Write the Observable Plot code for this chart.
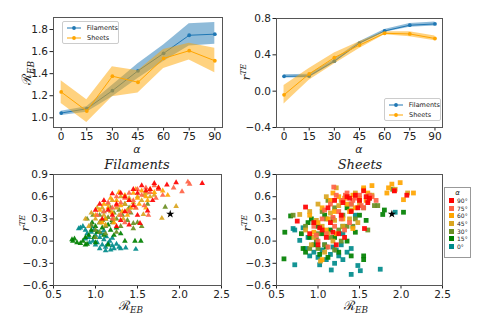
<!DOCTYPE html>
<html><head><meta charset="utf-8">
<script src="https://cdn.jsdelivr.net/npm/d3@7"></script>
<script src="https://cdn.jsdelivr.net/npm/@observablehq/plot@0.6"></script>
<style>
body{margin:0;background:#fff;}
#fig{position:relative;width:479px;height:317px;overflow:hidden;font-family:"DejaVu Sans",sans-serif;background:#fff;}
.panel{position:absolute;}
.panel svg{display:block;}
.panel svg text{font-size:10.5px;}
.lbl{position:absolute;transform:translate(-50%,-50%);white-space:nowrap;color:#222;line-height:1;}
.rot{transform:translate(-50%,-50%) rotate(-90deg);}
.m{font-family:"DejaVu Serif",serif;font-style:italic;}
.sub{font-size:68%;position:relative;top:0.3em;}
.sup{font-size:68%;position:relative;top:-0.5em;}
.leg{position:absolute;background:#fff;border:1px solid #ccc;border-radius:2px;font-size:6.5px;color:#222;}
.leg .row{display:flex;align-items:center;height:10px;}
.aleg{position:absolute;background:#fff;border:1px solid #999;font-size:6px;color:#222;}
.aleg .row{display:flex;align-items:center;height:7.6px;}
.aleg .sw{width:5px;height:5px;margin:0 3px 0 4px;}
</style>
</head><body>
<div id="fig"></div>
<script>
// ---------- data ----------
const alphas = [0, 15, 30, 45, 60, 75, 90];
// R_EB vs alpha
const filREB   = [1.043, 1.082, 1.246, 1.426, 1.584, 1.748, 1.758];
const filREBlo = [1.02, 1.05, 1.19, 1.356, 1.51, 1.65, 1.666];
const filREBhi = [1.06, 1.10, 1.295, 1.49, 1.66, 1.852, 1.864];
const shREB    = [1.234, 1.061, 1.377, 1.322, 1.538, 1.608, 1.517];
const shREBlo  = [1.13, 0.957, 1.19, 1.225, 1.447, 1.523, 1.408];
const shREBhi  = [1.335, 1.164, 1.462, 1.426, 1.62, 1.675, 1.63];
// r^TE vs alpha
const filRTE   = [0.163, 0.167, 0.33, 0.53, 0.663, 0.726, 0.74];
const filRTElo = [0.145, 0.148, 0.31, 0.515, 0.648, 0.705, 0.718];
const filRTEhi = [0.182, 0.185, 0.35, 0.545, 0.678, 0.745, 0.762];
const shRTE    = [-0.04, 0.19, 0.37, 0.507, 0.637, 0.63, 0.58];
const shRTElo  = [-0.14, 0.12, 0.30, 0.47, 0.62, 0.60, 0.555];
const shRTEhi  = [0.063, 0.25, 0.42, 0.545, 0.655, 0.655, 0.607];

const alphaTicks = [0, 15, 30, 45, 60, 75, 90];
const rebTicks = [1.0, 1.2, 1.4, 1.6, 1.8];
const rteTicks = [-0.4, 0.0, 0.4, 0.8];
const scXTicks = [0.5, 1.0, 1.5, 2.0, 2.5];
const scYTicks = [-0.6, -0.3, 0.0, 0.3, 0.6, 0.9];

const alphaLabels = ["0°", "15°", "30°", "45°", "60°", "75°", "90°"];
const alphaColors = ["#008b8b", "#008000", "#6b8e23", "#daa520", "#ffa500", "#ff6347", "#ff0000"];
const seriesColors = {Filaments: "#1f77b4", Sheets: "#ffa500"};
const star = [[1.89, 0.365]];

// Filaments scatter (R_EB, r^TE) per alpha
const fil0 = [[0.82,0.18],[0.85,0.20],[0.88,0.15],[0.90,0.10],[0.92,0.05],[0.95,0.12],[0.97,0.0],[1.0,0.08],[1.02,-0.02],[1.05,0.05],[1.08,-0.05],[1.1,0.02],[1.12,-0.08],[1.15,-0.03],[1.18,-0.12],[1.2,-0.06],[1.22,-0.1],[1.25,-0.04],[0.93,-0.02],[0.98,0.15],[1.03,0.12],[1.07,0.1],[1.13,0.06],[1.17,0.0],[1.28,-0.08],[1.3,-0.1],[1.36,-0.09],[1.48,-0.11],[0.88,0.03],[1.0,-0.05],[1.05,-0.1],[1.12,-0.13],[0.95,0.2],[1.1,0.14],[1.2,0.04],[0.8,0.17]];
const fil15 = [[0.72,0.02],[0.73,0.0],[0.75,0.03],[0.78,-0.02],[0.82,-0.03],[0.85,0.0],[0.88,0.05],[0.9,-0.04],[0.92,0.08],[0.95,0.15],[0.98,0.05],[1.0,0.2],[1.02,0.12],[1.05,0.25],[1.08,0.18],[1.1,0.08],[1.12,0.3],[1.15,0.22],[1.18,0.15],[1.2,0.28],[1.25,0.18],[1.3,0.1],[1.0,-0.02],[0.96,0.25],[1.22,0.08],[1.47,0.0],[1.54,0.0],[1.35,0.0],[1.15,-0.05],[0.88,-0.05]];
const fil30 = [[0.9,0.3],[0.95,0.22],[1.0,0.15],[1.05,0.35],[1.08,0.28],[1.1,0.4],[1.12,0.2],[1.15,0.32],[1.18,0.45],[1.2,0.25],[1.22,0.38],[1.25,0.3],[1.28,0.42],[1.3,0.2],[1.32,0.35],[1.35,0.5],[1.38,0.28],[1.4,0.45],[1.42,0.38],[1.45,0.24],[1.45,0.17],[1.5,0.25],[1.55,0.2],[1.62,0.5],[1.83,0.46],[1.0,0.05],[1.12,0.1],[0.97,0.35],[1.05,0.12],[1.25,0.12]];
const fil45 = [[0.88,0.3],[0.92,0.2],[0.95,0.38],[1.0,0.3],[1.05,0.25],[1.08,0.45],[1.1,0.35],[1.15,0.5],[1.18,0.4],[1.2,0.55],[1.25,0.45],[1.28,0.35],[1.3,0.6],[1.35,0.5],[1.38,0.42],[1.4,0.58],[1.45,0.52],[1.5,0.6],[1.55,0.55],[1.6,0.65],[1.65,0.6],[1.7,0.62],[1.79,0.31],[1.96,0.47],[1.57,0.36],[1.12,0.22],[1.22,0.3],[1.33,0.3],[1.48,0.45],[1.02,0.45],[1.58,0.62]];
const fil60 = [[1.0,0.35],[1.05,0.42],[1.1,0.5],[1.15,0.45],[1.2,0.38],[1.25,0.55],[1.3,0.48],[1.35,0.62],[1.4,0.55],[1.45,0.65],[1.5,0.58],[1.55,0.68],[1.6,0.6],[1.65,0.7],[1.7,0.66],[1.75,0.72],[1.8,0.68],[1.86,0.62],[1.6,0.45],[1.12,0.3],[1.22,0.25],[1.32,0.4],[1.42,0.45],[1.52,0.5],[1.18,0.58],[1.28,0.66],[1.08,0.25],[1.38,0.35],[1.62,0.55],[1.48,0.7]];
const fil75 = [[1.1,0.4],[1.15,0.52],[1.2,0.45],[1.25,0.6],[1.3,0.52],[1.35,0.58],[1.4,0.65],[1.45,0.55],[1.5,0.7],[1.55,0.62],[1.6,0.72],[1.65,0.66],[1.7,0.75],[1.75,0.7],[1.8,0.62],[1.93,0.72],[2.03,0.67],[2.1,0.8],[2.12,0.77],[1.63,0.35],[1.2,0.3],[1.3,0.35],[1.4,0.4],[1.02,0.35],[1.58,0.48],[1.25,0.48],[1.48,0.45],[1.72,0.58],[1.35,0.25]];
const fil90 = [[1.0,0.42],[1.05,0.5],[1.1,0.55],[1.15,0.42],[1.2,0.64],[1.25,0.5],[1.3,0.65],[1.35,0.6],[1.4,0.55],[1.45,0.7],[1.5,0.65],[1.55,0.75],[1.6,0.68],[1.65,0.7],[1.7,0.78],[1.75,0.72],[1.85,0.76],[1.96,0.79],[2.27,0.78],[1.4,0.22],[1.53,0.24],[1.5,0.35],[1.2,0.35],[1.3,0.28],[1.62,0.41],[1.35,0.4],[1.08,0.3],[1.45,0.48],[1.68,0.55],[1.25,0.2]];

// Sheets scatter (R_EB, r^TE) per alpha
const sh0 = [[0.7,0.17],[0.72,0.15],[0.78,0.01],[0.72,-0.32],[0.85,-0.1],[0.9,-0.2],[0.95,-0.15],[1.0,-0.22],[1.05,-0.12],[1.1,-0.25],[1.15,-0.18],[1.2,-0.3],[1.25,-0.2],[1.3,-0.25],[1.35,-0.15],[1.16,-0.39],[1.4,-0.45],[1.48,-0.33],[1.51,-0.4],[1.75,-0.38],[1.93,0.39],[0.88,0.05],[0.98,0.0],[1.08,-0.05],[1.18,-0.08],[1.28,-0.05],[1.4,-0.1],[1.3,0.1],[1.45,0.35],[1.02,-0.32],[0.82,0.18],[1.22,-0.12]];
const sh15 = [[0.59,-0.24],[0.6,0.12],[0.67,0.34],[0.8,0.1],[0.85,-0.15],[0.9,0.05],[0.92,0.3],[0.95,-0.05],[1.0,0.2],[1.02,-0.18],[1.05,0.1],[1.08,0.35],[1.1,-0.08],[1.15,0.15],[1.2,0.05],[1.25,-0.15],[1.3,0.2],[1.35,0.0],[1.4,-0.2],[1.45,0.12],[1.55,-0.2],[1.55,-0.25],[1.58,0.28],[1.8,0.42],[1.78,0.36],[2.03,0.39],[1.35,0.45],[0.88,0.25],[1.18,0.3],[1.12,-0.22],[0.82,-0.1],[1.5,0.35]];
const sh30 = [[0.7,0.35],[0.85,0.2],[0.9,-0.1],[0.95,0.25],[1.0,0.1],[1.05,0.4],[1.08,-0.05],[1.1,0.3],[1.15,0.05],[1.2,0.45],[1.25,0.15],[1.3,0.35],[1.35,0.2],[1.4,0.5],[1.45,0.3],[1.5,0.55],[1.55,0.45],[1.6,0.15],[1.68,0.48],[1.72,0.48],[1.9,0.7],[1.0,-0.1],[1.2,-0.12],[1.12,0.55],[0.98,0.02],[1.28,0.0],[1.42,0.2],[1.62,0.58]];
const sh45 = [[0.78,0.36],[0.85,0.15],[0.9,0.4],[0.95,0.05],[1.0,0.5],[1.03,-0.27],[1.05,0.2],[1.1,0.6],[1.12,0.1],[1.15,0.38],[1.2,0.28],[1.22,0.72],[1.25,0.48],[1.3,0.2],[1.35,0.6],[1.4,0.42],[1.45,0.65],[1.5,0.5],[1.55,0.7],[1.6,0.55],[1.65,0.62],[1.93,0.7],[2.08,0.65],[1.08,-0.15],[0.92,-0.05],[1.18,0.0],[1.28,0.55],[1.38,0.3],[0.98,0.28],[1.48,0.25]];
const sh60 = [[0.9,0.35],[1.0,0.25],[1.05,-0.25],[1.05,0.45],[1.1,0.15],[1.15,0.55],[1.2,0.4],[1.25,0.6],[1.3,0.3],[1.35,0.5],[1.42,0.17],[1.42,0.62],[1.5,0.58],[1.55,0.72],[1.6,0.65],[1.65,0.75],[1.83,0.65],[1.89,0.77],[1.99,0.79],[2.15,0.65],[2.03,0.56],[1.85,0.72],[1.12,0.3],[1.22,0.1],[1.32,0.58],[1.45,0.45],[0.95,0.12],[1.18,0.65],[1.58,0.55],[1.38,0.4]];
const sh75 = [[0.95,0.2],[1.0,0.0],[1.05,0.3],[1.1,0.1],[1.15,0.5],[1.19,0.73],[1.2,0.2],[1.22,0.62],[1.25,0.4],[1.3,0.55],[1.32,0.15],[1.35,0.65],[1.4,0.5],[1.45,0.58],[1.5,0.62],[1.55,0.45],[1.6,0.55],[1.65,0.6],[1.7,0.55],[1.92,0.68],[1.12,-0.08],[1.08,0.42],[1.28,0.3],[1.38,0.25],[1.42,0.55],[1.52,0.48],[0.98,0.08],[1.18,0.32],[1.62,0.62],[1.33,0.62]];
const sh90 = [[0.75,0.27],[0.85,0.46],[0.9,0.1],[0.95,0.25],[1.0,-0.05],[1.05,0.15],[1.1,0.05],[1.12,0.45],[1.15,0.25],[1.2,0.55],[1.25,0.1],[1.28,0.35],[1.3,0.52],[1.35,0.6],[1.4,0.4],[1.45,0.62],[1.5,0.55],[1.55,0.68],[1.58,0.6],[1.56,0.17],[1.62,0.58],[1.92,0.68],[2.07,0.62],[1.6,0.52],[1.18,0.12],[1.02,0.18],[1.22,-0.05],[1.32,0.05],[1.48,0.45],[1.38,0.58]];

// ---------- build ----------
const fig = document.getElementById("fig");
const baseStyle = {fontFamily: "DejaVu Sans", fontSize: "10.5px", background: "transparent", color: "#222", overflow: "visible"};

function place(el, left, top) {
  const d = document.createElement("div");
  d.className = "panel"; d.style.left = left + "px"; d.style.top = top + "px";
  d.appendChild(el); fig.appendChild(d);
}
function table(name, v, lo, hi) {
  return alphas.map((a, i) => ({series: name, alpha: a, v: v[i], lo: lo[i], hi: hi[i]}));
}
function lineMarks(rows) {
  const c = seriesColors[rows[0].series];
  return [
    Plot.areaY(rows, {x: "alpha", y1: "lo", y2: "hi", fill: c, fillOpacity: 0.5}),
    Plot.line(rows, {x: "alpha", y: "v", stroke: c, strokeWidth: 1}),
    Plot.dot(rows, {x: "alpha", y: "v", fill: c, r: 1.9})
  ];
}

// top-left
place(Plot.plot({
  width: 240, height: 150, marginLeft: 53, marginRight: 18, marginTop: 17, marginBottom: 23,
  style: baseStyle,
  x: {domain: [-4.5, 94.5], ticks: alphaTicks, tickSize: 3.5, tickPadding: 1.5, label: null},
  y: {domain: [0.912, 1.909], ticks: rebTicks, tickFormat: ".1f", tickSize: 3.5, tickPadding: 2, label: null},
  marks: [
    ...lineMarks(table("Filaments", filREB, filREBlo, filREBhi)),
    ...lineMarks(table("Sheets", shREB, shREBlo, shREBhi)),
    Plot.frame({stroke: "#555"})
  ]
}), 0, 0);

// top-right
place(Plot.plot({
  width: 239, height: 150, marginLeft: 36, marginRight: 37, marginTop: 18, marginBottom: 23,
  style: baseStyle,
  x: {domain: [-4.5, 94.5], ticks: alphaTicks, tickSize: 3.5, tickPadding: 1.5, label: null},
  y: {domain: [-0.4, 0.8], ticks: rteTicks, tickFormat: ".1f", tickSize: 3.5, tickPadding: 2, label: null},
  marks: [
    ...lineMarks(table("Filaments", filRTE, filRTElo, filRTEhi)),
    ...lineMarks(table("Sheets", shRTE, shRTElo, shRTEhi)),
    Plot.frame({stroke: "#555"})
  ]
}), 240, 0);

function scatterRows(groups) {
  const rows = [];
  groups.forEach((pts, i) => pts.forEach(([x, y]) => rows.push({x, y, a: alphaLabels[i]})));
  return rows;
}
function scatterPlot(groups, symbol, r, ml, mr) {
  return Plot.plot({
    width: ml === 53 ? 240 : 239, height: 167, marginLeft: ml, marginRight: mr, marginTop: 24, marginBottom: 32,
    style: baseStyle,
    x: {domain: [0.5, 2.5], ticks: scXTicks, tickFormat: ".1f", tickSize: 3.5, tickPadding: 1.5, label: null},
    y: {domain: [-0.6, 0.9], ticks: scYTicks, tickFormat: ".1f", tickSize: 3.5, tickPadding: 2, label: null},
    color: {domain: alphaLabels, range: alphaColors},
    marks: [
      Plot.dot(scatterRows(groups), {x: "x", y: "y", fill: "a", symbol: symbol, r: r, fillOpacity: 0.92}),
      Plot.dot(star, {x: d => d[0], y: d => d[1], symbol: "star", fill: "#000", r: 2.6}),
      Plot.frame({stroke: "#555"})
    ]
  });
}
place(scatterPlot([fil0, fil15, fil30, fil45, fil60, fil75, fil90], "triangle", 2.1, 53, 19), 0, 150);
place(scatterPlot([sh0, sh15, sh30, sh45, sh60, sh75, sh90], "square", 2.7, 36, 37), 240, 150);

// ---------- labels ----------
function label(s, x, y, cls, size) {
  const d = document.createElement("div");
  d.className = "lbl " + (cls || "");
  d.style.left = x + "px"; d.style.top = y + "px"; d.style.fontSize = (size || 12) + "px";
  d.innerHTML = s; fig.appendChild(d);
}
const REB = '<span class="m" style="font-style:normal">ℛ</span><span class="m sub">EB</span>';
const RTE = '<span class="m">r</span><span class="m sup">TE</span>';
const ALPHA = '<span style="font-style:italic">α</span>';
label(ALPHA, 137, 148.5, "", 11);
label(ALPHA, 359, 148.5, "", 11);
label(REB, 26, 73, "rot", 13);
label(RTE, 247, 72, "rot", 11.5);
label(REB, 131, 305, "", 13);
label(REB, 356, 305, "", 13);
label(RTE, 26, 223, "rot", 11.5);
label(RTE, 248, 223, "rot", 11.5);
label("Filaments", 137, 164, "m", 13);
label("Sheets", 360, 164, "m", 13);

// series legends
function seriesLegend(x, y, w) {
  const d = document.createElement("div");
  d.className = "leg";
  d.style.left = x + "px"; d.style.top = y + "px"; d.style.width = w + "px"; d.style.padding = "0.5px 0";
  d.innerHTML = Object.entries(seriesColors).map(([k, c]) =>
    `<div class="row"><svg width="20" height="8" style="margin:0 2px 0 2px"><line x1="2" x2="16" y1="4" y2="4" stroke="${c}" stroke-width="1"/><circle cx="9" cy="4" r="1.9" fill="${c}"/></svg><span>${k}</span></div>`
  ).join("");
  fig.appendChild(d);
}
seriesLegend(62, 21, 55);
seriesLegend(384, 98, 55);

// alpha legend
{
  const d = document.createElement("div");
  d.className = "aleg";
  d.style.left = "444px"; d.style.top = "187px"; d.style.width = "25px"; d.style.height = "69px";
  let s = '<div style="text-align:center;font-style:italic;font-size:7px;height:9px;line-height:10px">α</div>';
  for (let i = alphaLabels.length - 1; i >= 0; i--) {
    s += `<div class="row"><div class="sw" style="background:${alphaColors[i]}"></div><span>${alphaLabels[i]}</span></div>`;
  }
  d.innerHTML = s;
  fig.appendChild(d);
}
</script>
</body></html>
